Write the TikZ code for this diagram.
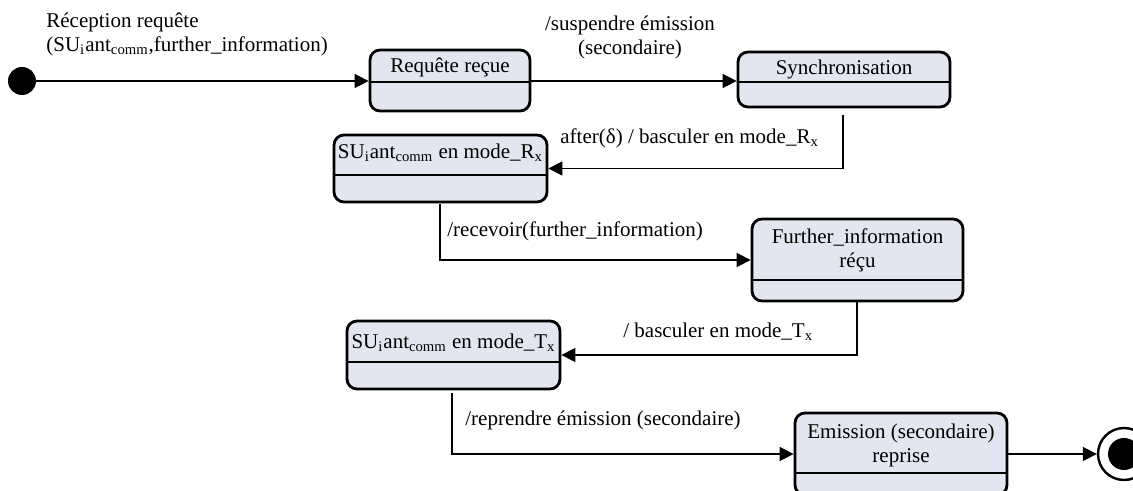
\documentclass[tikz,border=0pt]{standalone}
\usepackage{fontspec}
\setmainfont{Liberation Serif}
\usetikzlibrary{arrows.meta}
\definecolor{statefill}{RGB}{227,230,240}
\begin{document}
\begin{tikzpicture}[x=0.5pt,y=-0.5pt,
  font=\fontsize{10.5}{12}\selectfont,
  state/.style={draw, line width=1.4pt, rounded corners=5pt, fill=statefill, inner sep=0pt},
  conn/.style={line width=0.8pt, -{Triangle[length=7pt,width=7pt]}},
  lbl/.style={inner sep=0pt, align=left},
  divider/.style={line width=0.8pt}]
\useasboundingbox (0,0) rectangle (1133,491);

% states
\node[state, minimum width=80pt, minimum height=30.5pt] (rr) at (450,80.5) {};
\node[state, minimum width=106pt, minimum height=27.5pt] (sync) at (844,79.5) {};
\node[state, minimum width=106.5pt, minimum height=33.5pt] (sur) at (440.5,168.5) {};
\node[state, minimum width=105.5pt, minimum height=41pt] (fur) at (857.5,260) {};
\node[state, minimum width=106.5pt, minimum height=34pt] (sut) at (453.5,355) {};
\node[state, minimum width=106pt, minimum height=41pt] (emi) at (901,454) {};

% dividers
\draw[divider] (rr.west |- 0,82) -- (rr.east |- 0,82);
\draw[divider] (sync.west |- 0,82) -- (sync.east |- 0,82);
\draw[divider] (sur.west |- 0,175) -- (sur.east |- 0,175);
\draw[divider] (fur.west |- 0,280) -- (fur.east |- 0,280);
\draw[divider] (sut.west |- 0,362) -- (sut.east |- 0,362);
\draw[divider] (emi.west |- 0,473) -- (emi.east |- 0,473);

% state texts
\node (rrt) at (450,67) {Requête reçue};
\node (synct) at (844,69) {Synchronisation};
\node (surt) at (440.5,153) {SU\textsubscript{i}ant\textsubscript{comm} en mode\_R\textsubscript{x}};
\node[align=center] (furt) at (857.5,250) {Further\_information\\réçu};
\node (sutt) at (453.5,343) {SU\textsubscript{i}ant\textsubscript{comm} en mode\_T\textsubscript{x}};
\node[align=center] (emit) at (901,445) {Emission (secondaire)\\reprise};

% initial and final
\node[circle, fill=black, minimum size=14pt, inner sep=0pt] (init) at (22,81) {};
\node[circle, draw, line width=1.2pt, fill=white, minimum size=26pt, inner sep=0pt] (fin) at (1124,454) {};
\node[circle, fill=black, minimum size=16pt, inner sep=0pt] (finin) at (fin.center) {};

% connectors
\coordinate (c3) at (843,115);
\coordinate (c4) at (440,204);
\coordinate (c5) at (857,301);
\coordinate (c6) at (452,393);
\draw[conn] (init) -- (init -| rr.west);
\draw[conn] (rr.east |- init) -- (init -| sync.west);
\draw[conn] (c3) |- (sur.east);
\draw[conn] (c4) |- (fur.west);
\draw[conn] (c5) |- (sut.east);
\draw[conn] (c6) |- (emi.west);
\draw[conn] (emi.east) -- (fin.west);

% labels
\node[lbl, anchor=west] (l1) at (46,34) {Réception requête\\(SU\textsubscript{i}ant\textsubscript{comm},further\_information)};
\node[align=center, inner sep=0pt] (l2) at (630,37) {/suspendre émission\\(secondaire)};
\node[lbl, anchor=west] (l3) at (560,138) {after(δ) / basculer en mode\_R\textsubscript{x}};
\node[lbl, anchor=west] (l4) at (447,231) {/recevoir(further\_information)};
\node[lbl, anchor=west] (l5) at (623,332) {/ basculer en mode\_T\textsubscript{x}};
\node[lbl, anchor=west] (l6) at (465,420) {/reprendre émission (secondaire)};
\end{tikzpicture}
\end{document}
